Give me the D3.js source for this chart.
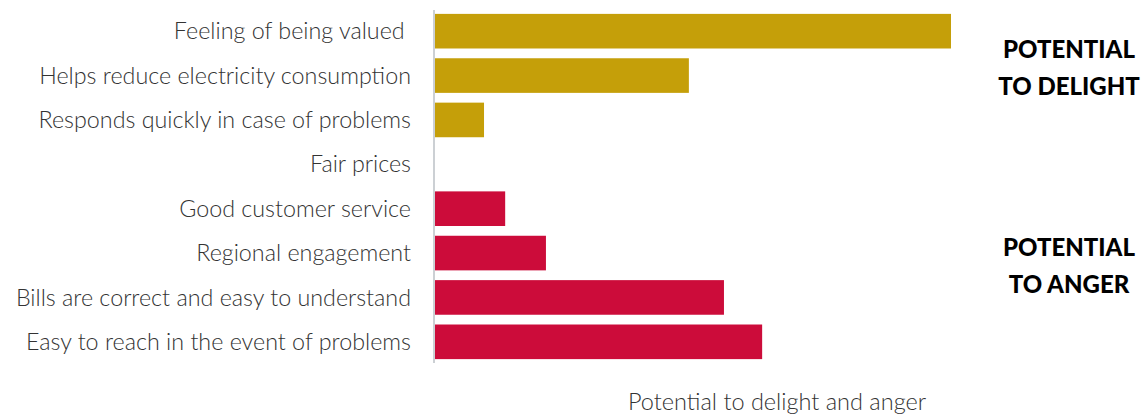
<!DOCTYPE html>
<html>
<head>
<meta charset="utf-8">
<script src="https://cdn.jsdelivr.net/npm/d3@7"></script>
<style>
  body { margin: 0; background: #fff; }
  text { font-family: Lato, sans-serif; }
</style>
</head>
<body>
<script>
const categories = [
  "Feeling of being valued ",
  "Helps reduce electricity consumption",
  "Responds quickly in case of problems",
  "Fair prices",
  "Good customer service",
  "Regional engagement",
  "Bills are correct and easy to understand",
  "Easy to reach in the event of problems"
];
const values = [100, 49.2, 9.5, 0, 13.6, 21.5, 56, 63.4];
const groups = ["delight", "delight", "delight", "delight", "anger", "anger", "anger", "anger"];
const colors = { delight: "#c59f09", anger: "#cc0c3a" };

const width = 1145, height = 415;

const svg = d3.select("body").append("svg")
  .attr("width", width)
  .attr("height", height);

const x = d3.scaleLinear().domain([0, 100]).range([435, 951]);
const y = d3.scaleBand().domain(categories).range([9, 364])
  .paddingInner(0.22).paddingOuter(0.11);

// bars
svg.selectAll("rect.bar").data(categories).enter().append("rect")
  .attr("class", "bar")
  .attr("x", x(0))
  .attr("y", d => y(d))
  .attr("width", (d, i) => x(values[i]) - x(0))
  .attr("height", y.bandwidth())
  .attr("fill", (d, i) => colors[groups[i]]);

// axis line
svg.append("line")
  .attr("x1", 434).attr("x2", 434)
  .attr("y1", 10).attr("y2", 363)
  .attr("stroke", "#ccd0d4")
  .attr("stroke-width", 2);

// category labels
svg.selectAll("text.cat").data(categories).enter().append("text")
  .attr("class", "cat")
  .attr("x", 411)
  .attr("y", d => y(d) + y.bandwidth() / 2)
  .attr("dy", "0.35em")
  .attr("text-anchor", "end")
  .style("white-space", "pre")
  .attr("font-size", 23.3)
  .attr("font-weight", 300)
  .attr("fill", "#333")
  .text(d => d);

// axis title
svg.append("text")
  .attr("x", 777)
  .attr("y", 410)
  .attr("text-anchor", "middle")
  .attr("font-size", 23.5)
  .attr("font-weight", 300)
  .attr("fill", "#333")
  .text("Potential to delight and anger");

// side labels
const sideLabels = [
  { lines: ["POTENTIAL", "TO DELIGHT"], y: 58 },
  { lines: ["POTENTIAL", "TO ANGER"], y: 256 }
];
sideLabels.forEach(s => {
  s.lines.forEach((l, i) => {
    svg.append("text")
      .attr("x", 1069)
      .attr("y", s.y + i * 37)
      .attr("text-anchor", "middle")
      .attr("font-size", 24)
      .attr("font-weight", 900)
      .attr("fill", "#000")
      .text(l);
  });
});
</script>
</body>
</html>
